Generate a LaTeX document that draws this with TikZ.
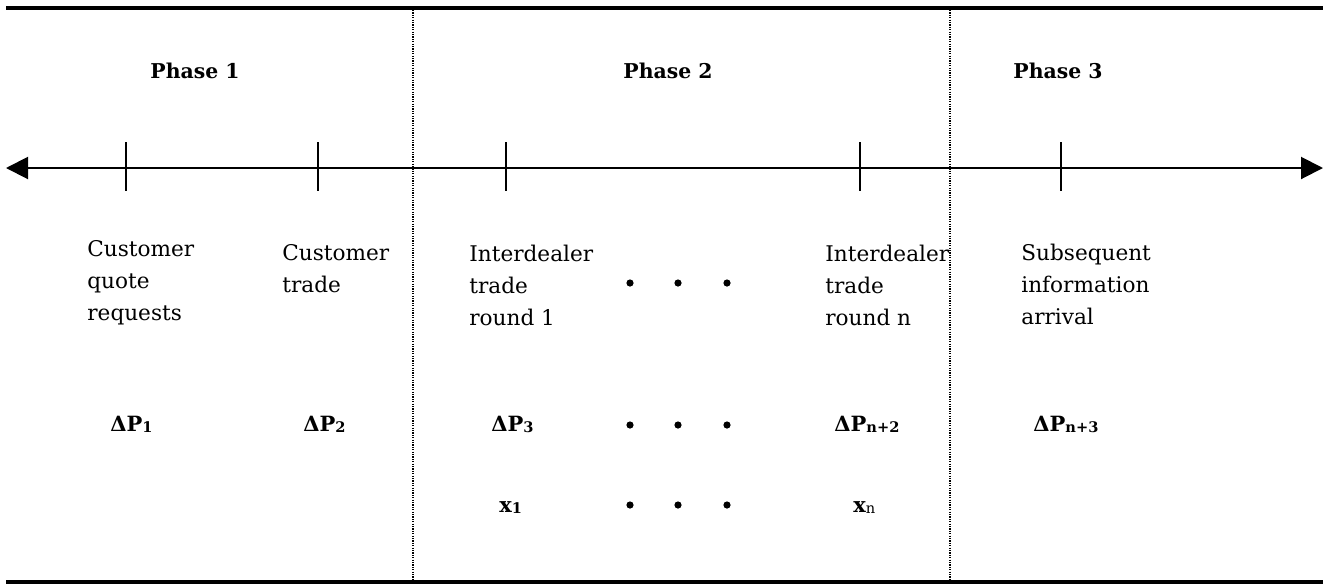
\documentclass[tikz,border=0pt]{standalone}
\usepackage{fontspec}
\setmainfont{DejaVu Serif}
\usetikzlibrary{arrows.meta}
\newcommand{\sbs}[1]{\raisebox{-0.8pt}{\fontsize{7.3}{7.3}\selectfont #1}}
\begin{document}
\begin{tikzpicture}[x=0.5pt,y=-0.5pt,
  lbl/.style={anchor=base west,inner sep=0pt,align=left,font=\fontsize{10.8}{16}\selectfont},
  phase/.style={anchor=base,inner sep=0pt,font=\fontsize{10.2}{12}\selectfont\bfseries},
  dp/.style={anchor=base west,inner sep=0pt,font=\fontsize{10.5}{12}\selectfont\bfseries},
  rulebar/.style={line width=2.3pt},
  sep/.style={line width=0.6pt,dash pattern=on 0.6pt off 0.6pt},
  tickmark/.style={line width=0.8pt},
  dotmark/.style={fill=black,draw=none}]
\useasboundingbox (0,0) rectangle (1323,585);
% rules
\coordinate (tl) at (6,8); \coordinate (tr) at (1323,8);
\coordinate (bl) at (6,582); \coordinate (br) at (1323,582);
\draw[rulebar] (tl) -- (tr);
\draw[rulebar] (bl) -- (br);
% separators
\coordinate (s1t) at (413,10); \coordinate (s1b) at (413,580);
\coordinate (s2t) at (950,10); \coordinate (s2b) at (950,580);
\draw[sep] (s1t) -- (s1b);
\draw[sep] (s2t) -- (s2b);
% axis
\coordinate (al) at (6,168); \coordinate (ar) at (1323,168);
\draw[line width=1pt,{Triangle[length=11pt,width=11pt]}-{Triangle[length=11pt,width=11pt]}] (al) -- (ar);
\foreach \x/\n in {126/t1,318/t2,506/t3,860/t4,1061/t5}{
  \coordinate (\n a) at (\x,142); \coordinate (\n b) at (\x,191);
  \draw[tickmark] (\n a) -- (\n b);
}
% phases
\node[phase] (p1) at (195,78) {Phase 1};
\node[phase] (p2) at (668,78) {Phase 2};
\node[phase] (p3) at (1058,78) {Phase 3};
% event labels (anchored at the baseline of the last line)
\node[lbl] (e1) at (87,320) {Customer\\quote\\requests};
\node[lbl] (e2) at (282,292) {Customer\\trade};
\node[lbl] (e3) at (469,325) {Interdealer\\trade\\round 1};
\node[lbl] (e4) at (825,325) {Interdealer\\trade\\round n};
\node[lbl] (e5) at (1021,324) {Subsequent\\information\\arrival};
% price changes
\node[dp] (d1) at (110,431) {ΔP\sbs{1}};
\node[dp] (d2) at (303,431) {ΔP\sbs{2}};
\node[dp] (d3) at (491,431) {ΔP\sbs{3}};
\node[dp] (d4) at (834,431) {ΔP\sbs{n+2}};
\node[dp] (d5) at (1033,431) {ΔP\sbs{n+3}};
% order flows
\node[dp] (x1) at (499,512) {x\sbs{1}};
\node[dp] (xn) at (853,512) {x\sbs{\mdseries n}};
% ellipsis dots
\foreach \y/\r in {283/a,425/b,505/c}{
  \foreach \x/\k in {630/1,678/2,727/3}{
    \fill[dotmark] (\x,\y) circle (1.8pt);
  }
}
\end{tikzpicture}
\end{document}
